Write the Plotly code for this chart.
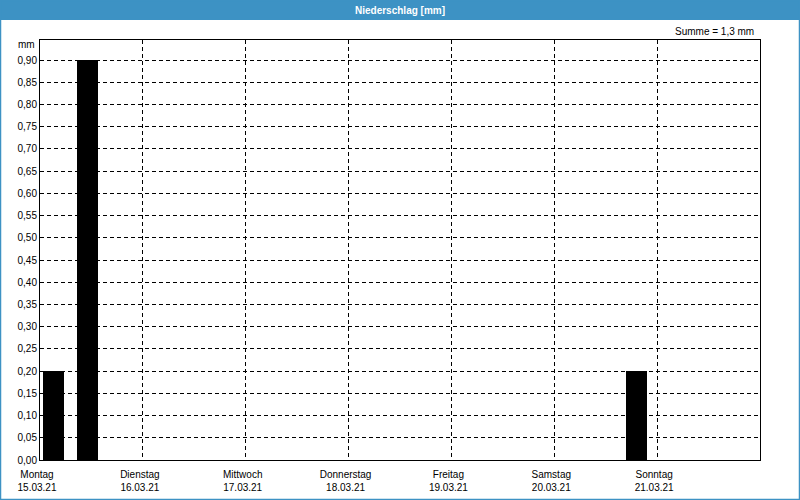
import plotly.graph_objects as go

# ---- data ----
bar_times = ["2021-03-15 03:10", "2021-03-15 11:10", "2021-03-20 19:10"]
bar_values = [0.20, 0.90, 0.20]
day_dates = ["2021-03-15", "2021-03-16", "2021-03-17", "2021-03-18",
             "2021-03-19", "2021-03-20", "2021-03-21"]
day_names = ["Montag", "Dienstag", "Mittwoch", "Donnerstag", "Freitag", "Samstag", "Sonntag"]
day_labels = ["15.03.21", "16.03.21", "17.03.21", "18.03.21", "19.03.21", "20.03.21", "21.03.21"]
y_ticks = [i * 0.05 for i in range(19)]
title_text = "Niederschlag [mm]"
sum_text = "Summe = 1,3 mm"
unit_text = "mm"

FONT = "Liberation Sans"
BLUE = "#3d92c4"

W, H = 800, 500
L, R, T, B = 40, 40, 40, 40
pw, ph = W - L - R, H - T - B


def px(x):
    return (x - L) / pw


def py(y):
    return (H - B - y) / ph


fig = go.Figure()
fig.add_trace(go.Bar(
    x=bar_times, y=bar_values,
    width=4.9 * 3600 * 1000,
    marker=dict(color="black", line=dict(width=0)),
    hoverinfo="skip",
))

fig.update_layout(
    width=W, height=H,
    margin=dict(l=L, r=R, t=T, b=B, autoexpand=False),
    paper_bgcolor="white", plot_bgcolor="white",
    separators=",.",
    showlegend=False,
    bargap=0,
    font=dict(family=FONT, size=10, color="black"),
    xaxis=dict(
        type="date",
        range=["2021-03-15 00:00", "2021-03-22 00:00"],
        tickvals=day_dates,
        ticktext=[f"{n}<br>{d}" for n, d in zip(day_names, day_labels)],
        showgrid=True, gridcolor="black", gridwidth=1, griddash="4px,3px",
        showline=True, linecolor="black", linewidth=1, mirror=True,
        ticks="", zeroline=False, automargin=False,
        ticklabelstandoff=5, ticklabelshift=-3,
        tickfont=dict(family=FONT, size=10, color="black"),
    ),
    yaxis=dict(
        range=[0, 0.945],
        tickvals=y_ticks,
        tickformat=".2f",
        showgrid=True, gridcolor="black", gridwidth=1, griddash="4px,3px",
        showline=True, linecolor="black", linewidth=1, mirror=True,
        ticks="", zeroline=False, automargin=False,
        tickfont=dict(family=FONT, size=10, color="black"),
    ),
    shapes=[
        dict(type="rect", xref="paper", yref="paper",
             x0=px(0), x1=px(W), y0=py(20), y1=py(0),
             fillcolor=BLUE, line=dict(width=0), layer="above"),
        dict(type="rect", xref="paper", yref="paper",
             x0=px(0.5), x1=px(W - 0.5), y0=py(H - 0.5), y1=py(0.5),
             fillcolor="rgba(0,0,0,0)", line=dict(color=BLUE, width=1.5), layer="above"),
    ],
    annotations=[
        dict(text=f"<b>{title_text}</b>", xref="paper", yref="paper",
             x=px(W / 2), y=py(10), showarrow=False, xanchor="center", yanchor="middle",
             font=dict(family=FONT, size=10, color="white")),
        dict(text=sum_text, xref="paper", yref="paper",
             x=px(756), y=py(31), showarrow=False, xanchor="right", yanchor="middle",
             font=dict(family=FONT, size=10, color="black")),
        dict(text=unit_text, xref="paper", yref="paper",
             x=px(37), y=py(45), showarrow=False, xanchor="right", yanchor="middle",
             font=dict(family=FONT, size=10, color="black")),
    ],
)

fig.write_html("out.html")
